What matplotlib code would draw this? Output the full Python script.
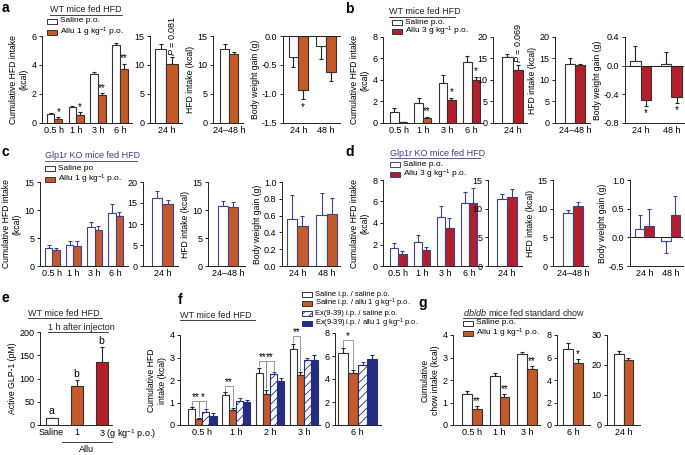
import numpy as np
import matplotlib
matplotlib.use('Agg')
import matplotlib.pyplot as plt
from matplotlib.lines import Line2D
from matplotlib.patches import Rectangle
from matplotlib.ticker import FormatStrFormatter

plt.rcParams['font.family'] = 'Liberation Sans'
plt.rcParams['font.size'] = 6.5
plt.rcParams['axes.labelsize'] = 6.2
plt.rcParams['mathtext.fontset'] = 'custom'
plt.rcParams['mathtext.rm'] = 'Liberation Sans'
plt.rcParams['mathtext.it'] = 'Liberation Sans:italic'
plt.rcParams['hatch.linewidth'] = 0.6

# ---- data ----
hours4 = ['0.5 h', '1 h', '3 h', '6 h']
days = ['24 h', '48 h']

# a: WT, allu 1 g/kg
a_cum_sal = [0.65, 1.1, 3.4, 5.35]
a_cum_sal_err = [0.07, 0.08, 0.15, 0.2]
a_cum_allu = [0.3, 0.55, 1.95, 3.75]
a_cum_allu_err = [0.12, 0.2, 0.1, 0.35]
a_cum_stars = ['*', '*', '**', '**']
a_24 = [12.8, 10.2]
a_24_err = [0.8, 1.1]
a_2448 = [12.7, 11.9]
a_2448_err = [1.0, 0.3]
a_bw_sal = [-0.37, -0.17]
a_bw_sal_err = [0.16, 0.23]
a_bw_allu = [-0.93, -0.62]
a_bw_allu_err = [0.16, 0.15]
a_bw_stars = ['*', '']

# b: WT, allu 3 g/kg
b_cum_sal = [1.05, 1.9, 3.75, 5.65]
b_cum_sal_err = [0.35, 0.4, 0.7, 0.55]
b_cum_allu = [0.05, 0.5, 2.15, 4.0]
b_cum_allu_err = [0.02, 0.08, 0.2, 0.3]
b_cum_stars = ['', '**', '*', '*']
b_24 = [15.3, 12.4]
b_24_err = [0.8, 1.1]
b_2448 = [13.7, 13.4]
b_2448_err = [1.3, 0.4]
b_bw_sal = [0.06, 0.02]
b_bw_sal_err = [0.22, 0.17]
b_bw_allu = [-0.48, -0.44]
b_bw_allu_err = [0.08, 0.08]
b_bw_stars = ['*', '*']

# c: Glp1r KO, allu 1 g/kg
c_cum_sal = [3.3, 3.7, 7.0, 9.5]
c_cum_sal_err = [0.5, 0.7, 0.9, 1.5]
c_cum_allu = [2.8, 3.6, 6.5, 9.0]
c_cum_allu_err = [0.5, 0.8, 0.7, 0.7]
c_24 = [16.1, 14.8]
c_24_err = [1.8, 0.8]
c_2448 = [10.7, 10.6]
c_2448_err = [0.9, 0.8]
c_bw_sal = [0.56, 0.61]
c_bw_sal_err = [0.29, 0.26]
c_bw_allu = [0.48, 0.62]
c_bw_allu_err = [0.12, 0.19]

# d: Glp1r KO, allu 3 g/kg
d_cum_sal = [1.65, 2.2, 4.6, 5.9]
d_cum_sal_err = [0.45, 0.7, 0.95, 1.0]
d_cum_allu = [1.1, 1.45, 3.5, 5.85]
d_cum_allu_err = [0.3, 0.35, 1.0, 1.4]
d_24 = [11.6, 12.1]
d_24_err = [0.9, 1.4]
d_2448 = [9.3, 10.5]
d_2448_err = [0.4, 0.7]
d_bw_sal = [0.15, -0.06]
d_bw_sal_err = [0.24, 0.22]
d_bw_allu = [0.2, 0.39]
d_bw_allu_err = [0.3, 0.33]

# e: active GLP-1
e_labels = ['Saline', '1', '']
e_vals = [14, 84, 135]
e_errs = [2, 12, 32]
e_letters = ['a', 'b', 'b']

# f: WT, Ex(9-39)
f_hours = ['0.5 h', '1 h', '2 h', '3 h']
f_sal_sal = [0.73, 1.33, 2.3, 3.4]
f_sal_sal_err = [0.05, 0.12, 0.25, 0.22]
f_sal_allu = [0.27, 0.67, 1.4, 2.22]
f_sal_allu_err = [0.06, 0.1, 0.17, 0.12]
f_ex_sal = [0.6, 1.05, 2.27, 2.9]
f_ex_sal_err = [0.1, 0.15, 0.08, 0.08]
f_ex_allu = [0.42, 1.03, 1.97, 2.9]
f_ex_allu_err = [0.1, 0.1, 0.1, 0.2]
f6_vals = [6.25, 4.55, 5.25, 5.7]
f6_errs = [0.45, 0.2, 0.2, 0.4]

# g: db/db chow
g_hours = ['0.5 h', '1 h', '3 h']
g_sal = [1.4, 2.2, 3.15]
g_sal_err = [0.1, 0.1, 0.1]
g_allu = [0.7, 1.25, 2.5]
g_allu_err = [0.15, 0.12, 0.12]
g_stars = ['**', '**', '**']
g6 = [6.8, 5.55]
g6_err = [0.45, 0.3]
g24 = [23.8, 21.8]
g24_err = [0.9, 0.5]

ORANGE = '#c4592a'
RED = '#b21f2b'
NAVY = '#232f7e'
DARK = '#333333'
BLUE_EDGE = '#3a4493'
TITLE_BLUE = '#3b3d8f'

W, H = 685, 455
fig = plt.figure(figsize=(W / 100, H / 100), dpi=100)


def axp(x0, yt, x1, yb, xlim, ylim, yticks, fmt=None):
    ax = fig.add_axes([x0 / W, 1 - yb / H, (x1 - x0) / W, (yb - yt) / H])
    ax.set_xlim(*xlim)
    ax.set_ylim(*ylim)
    ax.set_yticks(yticks)
    if fmt:
        ax.yaxis.set_major_formatter(FormatStrFormatter(fmt))
    for s in ['top', 'right']:
        ax.spines[s].set_visible(False)
    for s in ['left', 'bottom']:
        ax.spines[s].set_linewidth(0.7)
        ax.spines[s].set_color('#222222')
    ax.tick_params(axis='y', length=2.5, width=0.6, pad=1.5, labelsize=6.5)
    ax.tick_params(axis='x', length=0, pad=2.5, labelsize=6.5)
    return ax


def bars(ax, centers, series, errs, colors, edges, ecolors, width=0.35, hatches=None):
    n = len(series)
    out = []
    for i in range(n):
        x = np.asarray(centers, float) + (i - (n - 1) / 2) * width
        v = np.asarray(series[i], float)
        e = np.asarray(errs[i], float)
        lo = np.where(v < 0, e, 0)
        hi = np.where(v >= 0, e, 0)
        h = hatches[i] if hatches else None
        ax.bar(x, v, width, color=colors[i], edgecolor=edges[i], linewidth=0.8,
               hatch=h, zorder=2)
        ax.errorbar(x, v, yerr=[lo, hi], fmt='none', ecolor=ecolors[i],
                    elinewidth=0.8, capsize=1.5, capthick=0.8, zorder=1)
        out.append((x, v, e))
    return out


def stars(ax, x, v, e, labels, off):
    for xi, vi, ei, s in zip(x, v, e, labels):
        if not s:
            continue
        if vi < 0:
            ax.text(xi, vi - ei - off, s, ha='center', va='top', fontsize=7)
        else:
            ax.text(xi, vi + ei + off * 0.2, s, ha='center', va='bottom', fontsize=7)


def ftext(x, y, s, **kw):
    fig.text(x / W, 1 - y / H, s, **kw)


def fline(x0, x1, y, color='#222222'):
    fig.add_artist(Line2D([x0 / W, x1 / W], [1 - y / H, 1 - y / H], lw=0.6, color=color))


def legend(x, y, dy, entries, fs=6):
    for i, (lab, fc, ec, hat) in enumerate(entries):
        yy = y + i * dy
        fig.add_artist(Rectangle((x / W, 1 - (yy + 2.5) / H), 10 / W, 5 / H,
                                 transform=fig.transFigure, facecolor=fc, edgecolor=ec,
                                 lw=0.7, hatch=hat))
        ftext(x + 13, yy, lab, va='center', ha='left', fontsize=fs)


def title(x0, x1, y, s, color='#222222'):
    ftext(x0, y, s, va='center', ha='left', fontsize=6.5, color=color)
    fline(x0, x1, y + 5, color)


def letter(x, y, s):
    ftext(x, y, s, fontsize=10, fontweight='bold', va='center', ha='left')


CUM = 'Cumulative HFD intake\n(kcal)'
HFD = 'HFD intake (kcal)'
BW = 'Body weight gain (g)'

# ---------- row 1 : a ----------
ax = axp(42, 36, 132, 123, (-0.57, 3.55), (0, 6), [0, 2, 4, 6])
r = bars(ax, range(4), [a_cum_sal, a_cum_allu], [a_cum_sal_err, a_cum_allu_err],
         ['white', ORANGE], [DARK, DARK], ['#222', '#222'])
stars(ax, *r[1], a_cum_stars, 0.1)
ax.set_xticks(range(4), hours4)
ax.set_ylabel(CUM, labelpad=2)

ax = axp(150, 36, 182, 123, (-0.5, 0.47), (0, 15), [0, 5, 10, 15])
bars(ax, [0], [[a_24[0]], [a_24[1]]], [[a_24_err[0]], [a_24_err[1]]],
     ['white', ORANGE], [DARK, DARK], ['#222', '#222'])
ax.set_xticks([0], ['24 h'])
ax.text(0.175, a_24[1] + a_24_err[1] + 0.3, '$P$ = 0.081', rotation=90,
        ha='center', va='bottom', fontsize=6.5, clip_on=False)

ax = axp(213, 36, 243, 123, (-0.62, 0.54), (0, 15), [0, 5, 10, 15])
bars(ax, [0], [[a_2448[0]], [a_2448[1]]], [[a_2448_err[0]], [a_2448_err[1]]],
     ['white', ORANGE], [DARK, DARK], ['#222', '#222'])
ax.set_xticks([0], ['24\u201348 h'])
ax.set_ylabel(HFD, labelpad=1.5)

ax = axp(283, 36, 340, 123, (-0.55, 1.5), (-1.5, 0), [-1.5, -1.0, -0.5, 0.0], '%.1f')
r = bars(ax, [0, 1], [a_bw_sal, a_bw_allu], [a_bw_sal_err, a_bw_allu_err],
         ['white', ORANGE], [DARK, DARK], ['#222', '#222'])
stars(ax, *r[1], a_bw_stars, 0.05)
ax.axhline(0, color='#222222', lw=0.7, zorder=3, clip_on=False)
ax.set_xticks([0, 1], days)
ax.set_ylabel(BW, labelpad=1.5)

letter(2, 8, 'a')
title(50, 122, 10, 'WT mice fed HFD')
legend(47, 21, 11, [('Saline p.o.', 'white', DARK, None),
                    ('Allu 1 g kg$^{-1}$ p.o.', ORANGE, DARK, None)])

# ---------- row 1 : b ----------
ax = axp(383, 37, 483, 123, (-0.64, 3.47), (0, 8), [0, 2, 4, 6, 8])
r = bars(ax, range(4), [b_cum_sal, b_cum_allu], [b_cum_sal_err, b_cum_allu_err],
         ['white', RED], [DARK, DARK], ['#222', '#222'])
ax.patches[5].set_facecolor(ORANGE)
stars(ax, *r[1], b_cum_stars, 0.1)
ax.set_xticks(range(4), hours4)
ax.set_ylabel(CUM, labelpad=2)

ax = axp(493, 37, 527, 123, (-0.65, 0.48), (0, 20), [0, 5, 10, 15, 20])
bars(ax, [0], [[b_24[0]], [b_24[1]]], [[b_24_err[0]], [b_24_err[1]]],
     ['white', RED], [DARK, DARK], ['#222', '#222'])
ax.set_xticks([0], ['24 h'])
ax.text(0.175, b_24[1] + b_24_err[1] + 0.4, '$P$ = 0.069', rotation=90,
        ha='center', va='bottom', fontsize=6.5, clip_on=False)

ax = axp(555, 37, 590, 123, (-0.7, 0.52), (0, 20), [0, 5, 10, 15, 20])
bars(ax, [0], [[b_2448[0]], [b_2448[1]]], [[b_2448_err[0]], [b_2448_err[1]]],
     ['white', RED], [DARK, DARK], ['#222', '#222'])
ax.set_xticks([0], ['24\u201348 h'])
ax.set_ylabel(HFD, labelpad=1.5)

ax = axp(625, 37, 684, 123, (-0.51, 1.41), (-0.8, 0.4), [-0.8, -0.4, 0.0, 0.4], '%.1f')
r = bars(ax, [0, 1], [b_bw_sal, b_bw_allu], [b_bw_sal_err, b_bw_allu_err],
         ['white', RED], [DARK, DARK], ['#222', '#222'])
stars(ax, *r[1], b_bw_stars, 0.03)
ax.axhline(0, color='#222222', lw=0.7, zorder=3)
ax.set_xticks([0, 1], days)
ax.set_ylabel(BW, labelpad=1.5)

letter(345, 9, 'b')
title(389, 455, 12, 'WT mice fed HFD')
legend(392, 22, 9, [('Saline p.o.', 'white', DARK, None),
                    ('Allu 3 g kg$^{-1}$ p.o.', RED, DARK, None)])

# ---------- row 2 : c ----------
ax = axp(40, 182, 128, 266, (-0.59, 3.59), (0, 15), [0, 5, 10, 15])
bars(ax, range(4), [c_cum_sal, c_cum_allu], [c_cum_sal_err, c_cum_allu_err],
     ['white', ORANGE], [BLUE_EDGE, BLUE_EDGE], [BLUE_EDGE, BLUE_EDGE])
ax.set_xticks(range(4), hours4)
ax.set_ylabel(CUM, labelpad=2)

ax = axp(143, 182, 178, 266, (-0.65, 0.52), (0, 20), [0, 5, 10, 15, 20])
bars(ax, [0], [[c_24[0]], [c_24[1]]], [[c_24_err[0]], [c_24_err[1]]],
     ['white', ORANGE], [BLUE_EDGE, BLUE_EDGE], [BLUE_EDGE, BLUE_EDGE])
ax.set_xticks([0], ['24 h'])

ax = axp(208, 182, 245, 266, (-0.7, 0.59), (0, 15), [0, 5, 10, 15])
bars(ax, [0], [[c_2448[0]], [c_2448[1]]], [[c_2448_err[0]], [c_2448_err[1]]],
     ['white', ORANGE], [BLUE_EDGE, BLUE_EDGE], [BLUE_EDGE, BLUE_EDGE])
ax.set_xticks([0], ['24\u201348 h'])
ax.set_ylabel(HFD, labelpad=1.5)

ax = axp(282, 182, 340, 266, (-0.52, 1.45), (0, 1.0), [0.0, 0.2, 0.4, 0.6, 0.8, 1.0], '%.1f')
bars(ax, [0, 1], [c_bw_sal, c_bw_allu], [c_bw_sal_err, c_bw_allu_err],
     ['white', ORANGE], [BLUE_EDGE, BLUE_EDGE], [BLUE_EDGE, BLUE_EDGE])
ax.set_xticks([0, 1], days)
ax.set_ylabel(BW, labelpad=1.5)

letter(2, 152, 'c')
title(45, 137, 156, 'Glp1r KO mice fed HFD', TITLE_BLUE)
legend(45, 168, 11, [('Saline po', 'white', DARK, None),
                     ('Allu 1 g kg$^{-1}$ p.o.', ORANGE, DARK, None)])

# ---------- row 2 : d ----------
ax = axp(383, 180, 482, 266, (-0.65, 3.56), (0, 8), [0, 2, 4, 6, 8])
bars(ax, range(4), [d_cum_sal, d_cum_allu], [d_cum_sal_err, d_cum_allu_err],
     ['white', RED], [BLUE_EDGE, BLUE_EDGE], [BLUE_EDGE, BLUE_EDGE])
ax.set_xticks(range(4), hours4)
ax.set_ylabel(CUM, labelpad=2)

ax = axp(488, 180, 522, 266, (-0.66, 0.52), (0, 15), [0, 5, 10, 15])
bars(ax, [0], [[d_24[0]], [d_24[1]]], [[d_24_err[0]], [d_24_err[1]]],
     ['white', RED], [BLUE_EDGE, BLUE_EDGE], [BLUE_EDGE, BLUE_EDGE])
ax.set_xticks([0], ['24 h'])

ax = axp(553, 180, 588, 266, (-0.7, 0.52), (0, 15), [0, 5, 10, 15])
bars(ax, [0], [[d_2448[0]], [d_2448[1]]], [[d_2448_err[0]], [d_2448_err[1]]],
     ['white', RED], [BLUE_EDGE, BLUE_EDGE], [BLUE_EDGE, BLUE_EDGE])
ax.set_xticks([0], ['24\u201348 h'])
ax.set_ylabel(HFD, labelpad=1.5)

ax = axp(630, 180, 683, 266, (-0.55, 1.47), (-0.5, 1.0), [-0.5, 0.0, 0.5, 1.0], '%.1f')
bars(ax, [0, 1], [d_bw_sal, d_bw_allu], [d_bw_sal_err, d_bw_allu_err],
     ['white', RED], [BLUE_EDGE, BLUE_EDGE], [BLUE_EDGE, BLUE_EDGE])
ax.axhline(0, color='#222222', lw=0.7, zorder=3)
ax.set_xticks([0, 1], days)
ax.set_ylabel(BW, labelpad=1.5)

letter(345, 152, 'd')
title(390, 480, 153, 'Glp1r KO mice fed HFD', TITLE_BLUE)
legend(390, 164, 10, [('Saline p.o.', 'white', BLUE_EDGE, None),
                      ('Allu 3 g kg$^{-1}$ p.o.', RED, BLUE_EDGE, None)])

# ---------- row 3 : e ----------
ax = axp(40, 332, 112, 425, (-0.46, 2.42), (0, 200), [0, 50, 100, 150, 200])
for i, (v, e, c) in enumerate(zip(e_vals, e_errs, ['white', ORANGE, RED])):
    ax.bar(i, v, 0.48, color=c, edgecolor=DARK, linewidth=0.8, zorder=2)
    ax.errorbar(i, v, yerr=[[0], [e]], fmt='none', ecolor='#222', elinewidth=0.8,
                capsize=1.5, capthick=0.8, zorder=1)
    ax.text(i, v + e + 3, e_letters[i], ha='center', va='bottom', fontsize=7.5)
ax.set_xticks(range(3), e_labels)
ax.text(1.9, -0.025, '3 (g kg$^{-1}$ p.o.)', transform=ax.get_xaxis_transform(),
        ha='left', va='top', fontsize=6.5)
ax.set_ylabel('Active GLP-1 (pM)', labelpad=2)
fline(62, 112, 442)
ftext(87, 450, 'Allu', ha='center', va='center', fontsize=6.5)

letter(2, 298, 'e')
title(28, 102, 313, 'WT mice fed HFD')
title(48, 108, 327, '1 h after injecton')

# ---------- row 3 : f ----------
f_cols = ['white', ORANGE, 'white', NAVY]
f_edges = [DARK, DARK, NAVY, NAVY]
f_ecols = ['#222', '#222', BLUE_EDGE, NAVY]
f_hat = [None, None, '////', None]
ax = axp(180, 335, 320, 425, (-0.66, 3.48), (0, 4), [0, 1, 2, 3, 4])
r = bars(ax, range(4), [f_sal_sal, f_sal_allu, f_ex_sal, f_ex_allu],
         [f_sal_sal_err, f_sal_allu_err, f_ex_sal_err, f_ex_allu_err],
         f_cols, f_edges, f_ecols, width=0.21, hatches=f_hat)
ax.set_xticks(range(4), f_hours)
ax.set_ylabel('Cumulative HFD\nintake (kcal)', labelpad=2)


def bracket(ax, g, i, j, top, s, gap):
    xi, vi, ei = r[i][0][g], r[i][1][g], r[i][2][g]
    xj, vj, ej = r[j][0][g], r[j][1][g], r[j][2][g]
    ax.plot([xi, xi, xj, xj], [vi + ei + gap, top, top, vj + ej + gap],
            color='#8a8a8a', lw=0.6, clip_on=False, zorder=4)
    ax.text((xi + xj) / 2, top - gap * 0.6, s, ha='center', va='bottom', fontsize=7)


bracket(ax, 0, 0, 1, 1.05, '**', 0.06)
bracket(ax, 0, 1, 2, 1.05, '*', 0.06)
bracket(ax, 1, 0, 1, 1.72, '**', 0.06)
bracket(ax, 2, 0, 1, 2.85, '**', 0.06)
bracket(ax, 2, 1, 2, 2.85, '**', 0.06)
bracket(ax, 3, 0, 1, 3.95, '**', 0.06)

ax2 = axp(335, 333, 381, 425, (-0.5, 0.52), (0, 8), [0, 2, 4, 6, 8])
r = bars(ax2, [0], [[v] for v in f6_vals], [[e] for e in f6_errs],
         f_cols, f_edges, f_ecols, width=0.22, hatches=f_hat)
ax2.set_xticks([0], ['6 h'])
bracket(ax2, 0, 0, 1, 7.4, '*', 0.12)

letter(178, 300, 'f')
title(180, 255, 315, 'WT mice fed HFD')
legend(302, 294, 9.7, [('Saline i.p. / saline p.o.', 'white', DARK, None),
                       ('Saline i.p. / allu 1 g kg$^{-1}$ p.o.', ORANGE, DARK, None),
                       ('Ex(9-39) i.p. / saline p.o.', 'white', NAVY, '////'),
                       ('Ex(9-39) i.p. / allu 1 g kg$^{-1}$ p.o.', NAVY, NAVY, None)],
       fs=5.4)

# ---------- row 3 : g ----------
ax = axp(453, 335, 540, 425, (-0.69, 2.47), (0, 4), [0, 1, 2, 3, 4])
r = bars(ax, range(3), [g_sal, g_allu], [g_sal_err, g_allu_err],
         ['white', ORANGE], [DARK, DARK], ['#222', '#222'])
stars(ax, *r[1], g_stars, 0.06)
ax.set_xticks(range(3), g_hours)
ax.set_ylabel('Cumulative\nchow intake (kcal)', labelpad=2)

ax = axp(557, 335, 590, 425, (-0.56, 0.6), (0, 8), [0, 2, 4, 6, 8])
r = bars(ax, [0], [[g6[0]], [g6[1]]], [[g6_err[0]], [g6_err[1]]],
         ['white', ORANGE], [DARK, DARK], ['#222', '#222'])
stars(ax, *r[1], ['*'], 0.12)
ax.set_xticks([0], ['6 h'])

ax = axp(607, 335, 640, 425, (-0.58, 0.58), (0, 30), [0, 10, 20, 30])
bars(ax, [0], [[g24[0]], [g24[1]]], [[g24_err[0]], [g24_err[1]]],
     ['white', ORANGE], [DARK, DARK], ['#222', '#222'])
ax.set_xticks([0], ['24 h'])

letter(418, 303, 'g')
title(463, 575, 313, r'$\mathit{db/db}$ mice fed standard chow')
legend(463, 323, 10, [('Saline p.o.', 'white', DARK, None),
                      ('Allu 1 g kg$^{-1}$ p.o.', ORANGE, DARK, None)])

fig.savefig('out.png', dpi=100)
